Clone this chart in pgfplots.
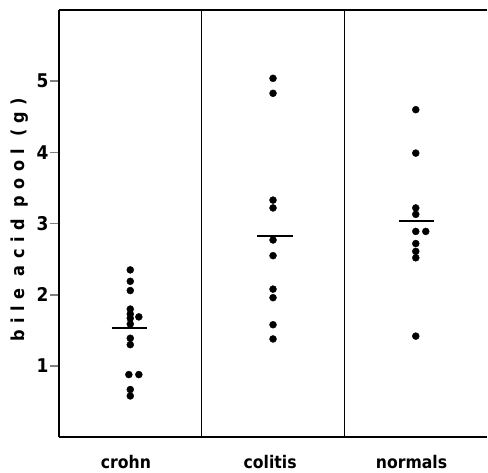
\documentclass[border=0pt]{standalone}
\usepackage{fontspec}
\setmainfont{DejaVu Sans Condensed}
\usepackage{pgfplots}
\pgfplotsset{compat=1.18}
\begin{document}
\begin{tikzpicture}
\begin{axis}[
  scale only axis,
  width=429bp, height=428bp,
  xmin=0, xmax=3, ymin=0, ymax=6,
  axis x line*=box, axis y line*=left,
  axis line style={line width=1.7pt},
  clip=false,
  ytick={1,2,3,4,5},
  yticklabel style={font=\fontsize{19}{20}\selectfont\bfseries, xshift=2bp},
  /pgf/number format/assume math mode=true,
  tick align=outside,
  major tick length=9bp,
  y tick style={line width=1.5pt},
  xtick={0.47,1.48,2.47},
  xticklabels={crohn,colitis,normals},
  x tick style={draw=none},
  xticklabel style={font=\fontsize{17.5}{19}\selectfont\bfseries, yshift=-6bp},
  ylabel={\fontsize{18}{19}\selectfont\bfseries\addfontfeature{LetterSpace=36}bile acid pool (g)},
  ylabel style={at={(rel axis cs:0,0.51)}, anchor=center, xshift=0bp, yshift=39bp},
]
% dividers
\draw[line width=1.7pt] (axis cs:1,0) -- (axis cs:1,6);
\draw[line width=1.7pt] (axis cs:2,0) -- (axis cs:2,6);
% crohn
\addplot[only marks, mark=*, mark size=3.5bp, black] coordinates {
(0.50,2.35) (0.50,2.19) (0.50,2.06) (0.50,1.80) (0.50,1.73) (0.56,1.69)
(0.50,1.67) (0.50,1.59) (0.50,1.39) (0.50,1.30) (0.49,0.88) (0.56,0.88)
(0.50,0.67) (0.50,0.58)};
% colitis
\addplot[only marks, mark=*, mark size=3.5bp, black] coordinates {
(1.50,5.04) (1.50,4.83) (1.50,3.33) (1.50,3.22) (1.50,2.77) (1.50,2.55)
(1.50,2.08) (1.50,1.96) (1.50,1.58) (1.50,1.38)};
% normals
\addplot[only marks, mark=*, mark size=3.5bp, black] coordinates {
(2.50,4.60) (2.50,3.99) (2.50,3.22) (2.50,3.13) (2.50,2.89) (2.57,2.89)
(2.50,2.72) (2.50,2.61) (2.50,2.52) (2.50,1.42)};
% means
\addplot[black, line width=2pt] coordinates {(0.37,1.53) (0.62,1.53)};
\addplot[black, line width=2pt] coordinates {(1.39,2.83) (1.64,2.83)};
\addplot[black, line width=2pt] coordinates {(2.38,3.04) (2.63,3.04)};
\path (rel axis cs:0,0) ++(-59bp,-34bp) coordinate (bl);
\path (rel axis cs:1,1) ++(0bp,10bp) coordinate (tr);
\path (bl) rectangle (tr);
\end{axis}
\end{tikzpicture}
\end{document}
